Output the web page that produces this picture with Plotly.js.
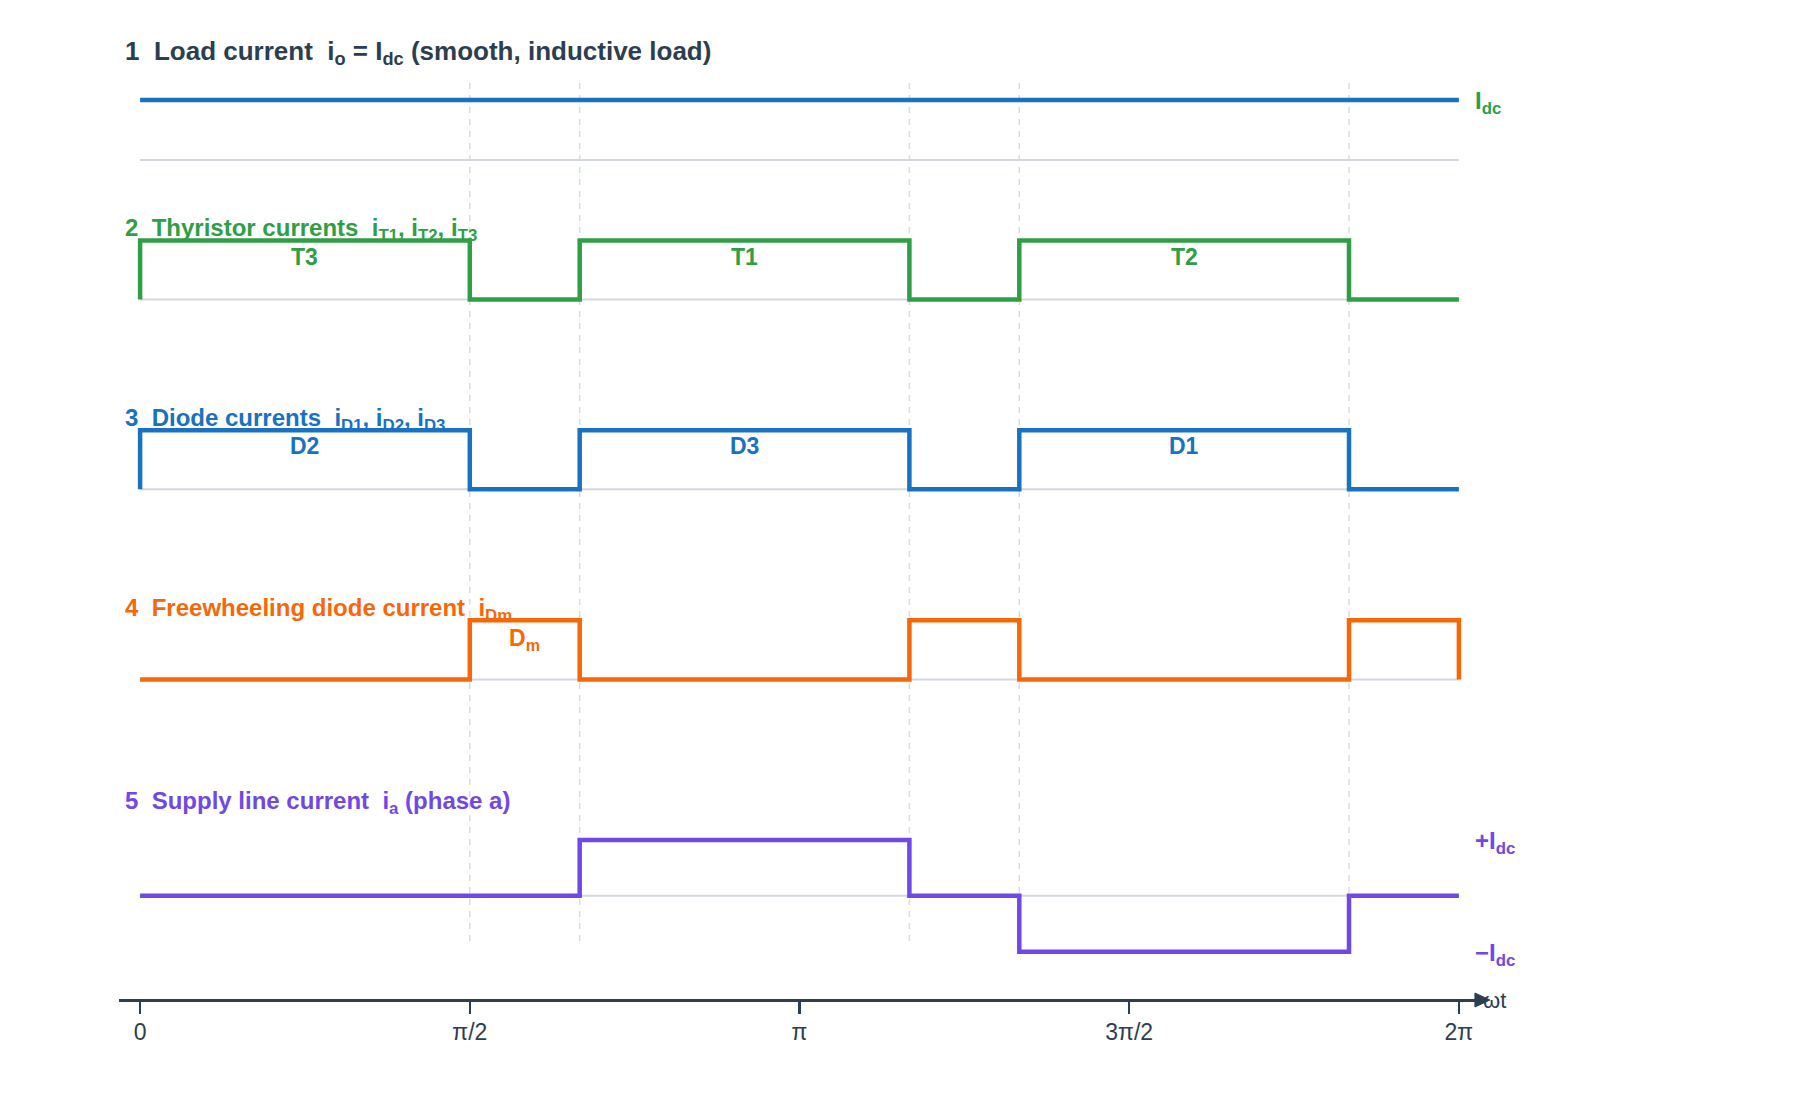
<!DOCTYPE html>
<html>
<head>
<meta charset="utf-8">
<script src="https://cdn.plot.ly/plotly-3.0.1.min.js"></script>
<style>
  html, body { margin: 0; padding: 0; background: #ffffff; }
  #chart { width: 1800px; height: 1120px; }
</style>
</head>
<body>
<div id="chart"></div>
<script>
// ---- Data (angles in units of π) ----
const tickVals = [0, 0.5, 1, 1.5, 2];
const tickText = ['0', 'π/2', 'π', '3π/2', '2π'];
const commutationAngles = [0.5, 2/3, 7/6, 4/3, 11/6];

const loadX = [0, 2];
const loadY = [1, 1];

const thyristorX = [0, 0, 0.5, 2/3, 7/6, 4/3, 11/6, 2];
const thyristorY = [0, 1, 0, 1, 0, 1, 0, 0];
const thyristorLabelX = [0.25, 11/12, 19/12];
const thyristorLabels = ['T3', 'T1', 'T2'];

const diodeX = [0, 0, 0.5, 2/3, 7/6, 4/3, 11/6, 2];
const diodeY = [0, 1, 0, 1, 0, 1, 0, 0];
const diodeLabelX = [0.25, 11/12, 19/12];
const diodeLabels = ['D2', 'D3', 'D1'];

const freewheelX = [0, 0.5, 2/3, 7/6, 4/3, 11/6, 2];
const freewheelY = [0, 1, 0, 1, 0, 1, 0];
const freewheelLabelX = [7/12];
const freewheelLabels = ['D<sub>m</sub>'];

const supplyX = [0, 2/3, 7/6, 4/3, 11/6, 2];
const supplyY = [0, 1, 0, -1, 0, 0];

const rowTitles = [
  '1  Load current  i<sub>o</sub> = I<sub>dc</sub> (smooth, inductive load)',
  '2  Thyristor currents  i<sub>T1</sub>, i<sub>T2</sub>, i<sub>T3</sub>',
  '3  Diode currents  i<sub>D1</sub>, i<sub>D2</sub>, i<sub>D3</sub>',
  '4  Freewheeling diode current  i<sub>Dm</sub>',
  '5  Supply line current  i<sub>a</sub> (phase a)'
];

// ---- Styles ----
const FONT = 'Liberation Sans, Arial, Helvetica, sans-serif';
const DARK = '#2c3e50';
const BLUE = '#1971c2';
const GREEN = '#2f9e44';
const ORANGE = '#f76707';
const VIOLET = '#7048e8';
const BASE = '#d3d7e0';
const GRIDC = '#d9dce3';

const rowColors = [DARK, GREEN, BLUE, ORANGE, VIOLET];
const rowTitleY = [0.9672, 0.7862, 0.5923, 0.3989, 0.2015];
const rowTitleSize = [26, 24, 24, 24, 24];

function wave(x, y, axis, color) {
  return {
    x: x, y: y, xaxis: 'x', yaxis: axis, type: 'scatter', mode: 'lines',
    line: {shape: 'hv', color: color, width: 4.5}, hoverinfo: 'skip',
    showlegend: false, cliponaxis: false
  };
}

const traces = [
  wave(loadX, loadY, 'y', BLUE),
  wave(thyristorX, thyristorY, 'y2', GREEN),
  wave(diodeX, diodeY, 'y3', BLUE),
  wave(freewheelX, freewheelY, 'y4', ORANGE),
  wave(supplyX, supplyY, 'y5', VIOLET)
];

const shapes = [];
['y', 'y2', 'y3', 'y4', 'y5'].forEach(ax => {
  shapes.push({type: 'line', xref: 'x', yref: ax, x0: 0, x1: 2, y0: 0, y1: 0,
    line: {color: BASE, width: 2}, layer: 'below'});
});
commutationAngles.forEach(a => {
  shapes.push({type: 'line', xref: 'x', yref: 'paper', x0: a, x1: a, y0: 0.0602, y1: 0.9388,
    line: {color: GRIDC, width: 1.5, dash: '6px,6px'}, layer: 'below'});
});
// arrowhead at the end of the ωt axis (paper-referenced so it is not clipped)
shapes.push({type: 'path', xref: 'paper', yref: 'paper', xsizemode: 'pixel', ysizemode: 'pixel',
  xanchor: 1.0073, yanchor: 0, path: 'M -15 -7 L 0 0 L -15 7 Z',
  fillcolor: DARK, line: {color: DARK, width: 1}, layer: 'above'});

const annotations = [];
rowTitles.forEach((t, i) => {
  annotations.push({text: '<b>' + t + '</b>', xref: 'x', yref: 'paper', x: -0.026, y: rowTitleY[i],
    xanchor: 'left', yanchor: 'middle', showarrow: false,
    font: {family: FONT, size: rowTitleSize[i], color: rowColors[i]}});
});
function pulseLabels(xs, texts, axis, color, shift) {
  xs.forEach((x, i) => {
    annotations.push({text: '<b>' + texts[i] + '</b>', xref: 'x', yref: axis, x: x, y: 1,
      xanchor: 'center', yanchor: 'middle', yshift: shift, showarrow: false,
      font: {family: FONT, size: 23, color: color}});
  });
}
pulseLabels(thyristorLabelX, thyristorLabels, 'y2', GREEN, -16);
pulseLabels(diodeLabelX, diodeLabels, 'y3', BLUE, -16);
pulseLabels(freewheelLabelX, freewheelLabels, 'y4', ORANGE, -19);

function levelLabel(text, axis, y, color) {
  annotations.push({text: '<b>' + text + '</b>', xref: 'x', yref: axis, x: 2, y: y,
    xanchor: 'left', yanchor: 'middle', xshift: 14, yshift: -3, showarrow: false,
    font: {family: FONT, size: 24, color: color}});
}
levelLabel('I<sub>dc</sub>', 'y', 1, GREEN);
levelLabel('+I<sub>dc</sub>', 'y5', 1, VIOLET);
levelLabel('−I<sub>dc</sub>', 'y5', -1, VIOLET);

annotations.push({text: 'ωt', xref: 'paper', yref: 'paper', x: 1.0007, y: 0,
  xanchor: 'left', yanchor: 'middle', showarrow: false,
  font: {family: FONT, size: 22, color: DARK}});

function yax(domain, range) {
  return {domain: domain, range: range, visible: false, fixedrange: true, anchor: 'x'};
}

const layout = {
  width: 1800, height: 1120,
  margin: {l: 119, r: 320, t: 20, b: 120},
  paper_bgcolor: '#ffffff', plot_bgcolor: '#ffffff',
  showlegend: false,
  font: {family: FONT, color: DARK},
  xaxis: {
    range: [-0.032, 2.032], anchor: 'free', position: 0,
    showgrid: false, zeroline: false, showline: true, linecolor: DARK, linewidth: 3,
    ticks: 'outside', ticklen: 12, tickwidth: 2.5, tickcolor: DARK,
    ticklabelstandoff: -2,
    tickvals: tickVals, ticktext: tickText,
    tickfont: {family: FONT, size: 23, color: DARK}, fixedrange: true
  },
  yaxis: yax([0.8418, 0.9337], [-0.25, 1.25]),
  yaxis2: yax([0.6998, 0.7900], [-0.25, 1.25]),
  yaxis3: yax([0.5062, 0.5963], [-0.25, 1.25]),
  yaxis4: yax([0.3119, 0.4026], [-0.25, 1.25]),
  yaxis5: yax([0.0350, 0.1776], [-1.25, 1.25]),
  shapes: shapes,
  annotations: annotations
};

Plotly.newPlot('chart', traces, layout, {displayModeBar: false, staticPlot: true});
</script>
</body>
</html>
